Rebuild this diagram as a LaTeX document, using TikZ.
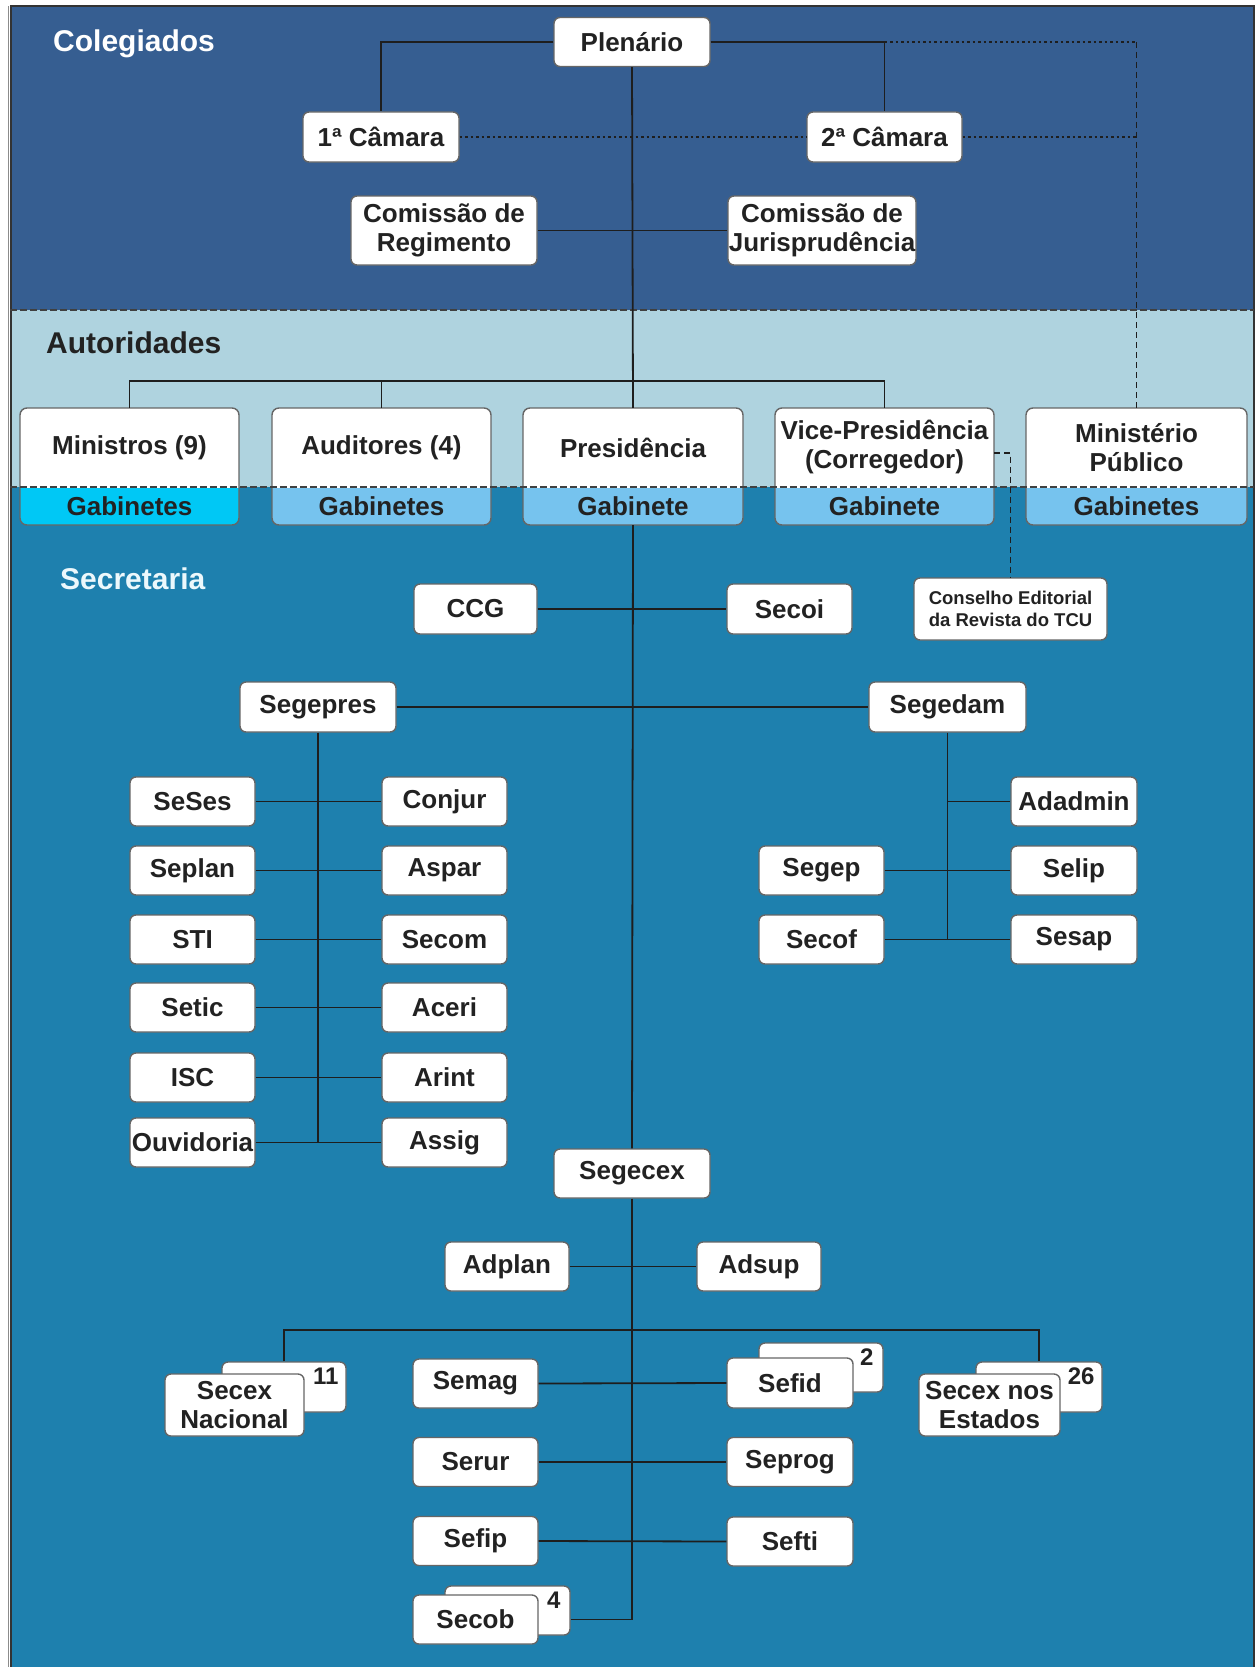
\documentclass[tikz,border=0pt]{standalone}
\usepackage{fontspec}
\setmainfont{Liberation Sans}
\usetikzlibrary{calc}
\definecolor{colA}{RGB}{54,94,145}
\definecolor{colB}{RGB}{175,211,223}
\definecolor{colC}{RGB}{30,128,174}
\definecolor{gabL}{RGB}{118,195,238}
\definecolor{gabC}{RGB}{0,200,245}
\definecolor{txt}{RGB}{34,34,34}
\definecolor{lnc}{RGB}{30,30,30}
\definecolor{secl}{RGB}{236,248,252}
\newcommand\fbig{\fontsize{26}{29}\selectfont}
\newcommand\fttl{\fontsize{30}{34}\selectfont}
\newcommand\fsml{\fontsize{18.5}{22}\selectfont}
\newcommand\fnum{\fontsize{24}{26}\selectfont}
\tikzset{
  boxdraw/.style={draw=black!60, line width=1.4pt},
  bx/.style 2 args={boxdraw, fill=white, rounded corners=6pt, inner sep=0pt,
     minimum width=#1, minimum height=#2, text=txt, font=\bfseries\fbig, align=center},
  authtxt/.style={inner sep=0pt, text=txt, font=\bfseries\fbig, align=center},
  ttl/.style={anchor=west, inner sep=0pt, font=\bfseries\fttl},
  num/.style={inner sep=0pt, text=txt, font=\bfseries\fnum, anchor=north east},
  ln/.style={draw=lnc, line width=1.8pt},
  dotl/.style={draw=lnc, line width=2pt, dash pattern=on 2.5pt off 3pt},
  dashl/.style={draw=lnc, line width=1.6pt, dash pattern=on 6pt off 4pt},
  bandsep/.style={draw=black!75, line width=1.8pt, dash pattern=on 7pt off 3pt}
}
\newcommand\authbox[6]{%
  \fill[#6, rounded corners=7pt] (#2,408) rectangle (#3,525);
  \begin{scope}
    \clip (#2-5,400) rectangle (#3+5,487);
    \fill[white, rounded corners=7pt] (#2,408) rectangle (#3,525);
  \end{scope}
  \draw[boxdraw, rounded corners=7pt] (#2,408) rectangle (#3,525);
  \node[authtxt, minimum width={#3-#2}, minimum height=79] (#1) at ({(#2+#3)/2},447.5) {#4};
  \node[authtxt, minimum width={#3-#2}, minimum height=38] (#1g) at ({(#2+#3)/2},506) {#5};
}
\begin{document}
\begin{tikzpicture}[x=1pt,y=-1pt]
\useasboundingbox (0,0) rectangle (1257,1667);
% bands
\fill[white] (0,0) rectangle (1257,1667);
\fill[colA] (10,6) rectangle (1254,310);
\fill[colB] (10,310) rectangle (1254,487);
\fill[colC] (10,487) rectangle (1254,1667);
\draw[black!45, line width=1pt] (8.5,1667) -- (8.5,6);
\draw[black!80, line width=2pt] (10.5,1667) -- (10.5,6.5) -- (1254,6.5) -- (1254,1667);

% band titles
\node[ttl, text=white] (tcol) at (53,44) {Colegiados};
\node[ttl, text=txt] (taut) at (46,343) {Autoridades};
\node[ttl, text=secl] (tsec) at (60,579) {Secretaria};

% Colegiados
\node[bx={156}{49}] (pl) at (632,42) {Plenário};
\node[bx={156}{50}] (c1) at (381,137) {1ª Câmara};
\node[bx={155}{50}] (c2) at (884.5,137) {2ª Câmara};
\node[bx={186}{69}] (creg) at (444,230.5) {Comissão de\\Regimento};
\node[bx={188}{69}] (cjur) at (822,230.5) {Comissão de\\Jurisprudência};

% Autoridades
\authbox{min}{20}{239}{Ministros (9)}{Gabinetes}{gabC}
\authbox{aud}{272}{491}{Auditores (4)}{Gabinetes}{gabL}
\authbox{pres}{523}{743}{Presidência}{Gabinete}{gabL}
\authbox{vp}{775}{994}{Vice-Presidência\\(Corregedor)}{Gabinete}{gabL}
\authbox{mp}{1026}{1247}{Ministério\\Público}{Gabinetes}{gabL}

% band separators
\draw[bandsep] (10,310) -- (1254,310);
\draw[bandsep] (10,487) -- (1254,487);

% Secretaria
\node[bx={123}{50}] (ccg) at (475.5,609) {CCG};
\node[bx={125}{50}] (secoi) at (789.5,609) {Secoi};
\node[bx={193}{62}, font=\bfseries\fsml] (cons) at (1010.5,609) {Conselho Editorial\\da Revista do TCU};
\node[bx={156}{50}] (segepres) at (318,707) {Segepres};
\node[bx={157}{50}] (segedam) at (947.5,707) {Segedam};

\node[bx={125}{49}] (seses) at (192.5,801.5) {SeSes};
\node[bx={125}{49}] (conjur) at (444.5,801.5) {Conjur};
\node[bx={125}{49}] (seplan) at (192.5,870.5) {Seplan};
\node[bx={125}{49}] (aspar) at (444.5,870.5) {Aspar};
\node[bx={125}{49}] (sti) at (192.5,939.5) {STI};
\node[bx={125}{49}] (secom) at (444.5,939.5) {Secom};
\node[bx={125}{49}] (setic) at (192.5,1007.5) {Setic};
\node[bx={125}{49}] (aceri) at (444.5,1007.5) {Aceri};
\node[bx={125}{49}] (isc) at (192.5,1077.5) {ISC};
\node[bx={125}{49}] (arint) at (444.5,1077.5) {Arint};
\node[bx={125}{49}] (ouv) at (192.5,1142.5) {Ouvidoria};
\node[bx={125}{49}] (assig) at (444.5,1142.5) {Assig};

\node[bx={126}{49}] (adadmin) at (1074,801.5) {Adadmin};
\node[bx={125}{49}] (segep) at (821.5,870.5) {Segep};
\node[bx={126}{49}] (selip) at (1074,870.5) {Selip};
\node[bx={125}{49}] (secof) at (821.5,939.5) {Secof};
\node[bx={126}{49}] (sesap) at (1074,939.5) {Sesap};

\node[bx={156}{49}] (segecex) at (632,1173.5) {Segecex};
\node[bx={124}{49}] (adplan) at (507,1266.5) {Adplan};
\node[bx={124}{49}] (adsup) at (759,1266.5) {Adsup};

\node[bx={124}{50}] (secnb) at (284,1387) {};
\node[num] (n11) at ([xshift=-8pt,yshift=-6pt]secnb.north east) {11};
\node[bx={139}{62}] (secn) at (234.5,1405) {Secex\\Nacional};

\node[bx={125}{49}] (semag) at (475.5,1383.5) {Semag};
\node[bx={125}{49}] (serur) at (475.5,1462) {Serur};
\node[bx={125}{49}] (sefip) at (475.5,1541) {Sefip};
\node[bx={125}{49}] (secobb) at (507.5,1610.5) {};
\node[num] (n4) at ([xshift=-10pt,yshift=-6pt]secobb.north east) {4};
\node[bx={125}{49}] (secob) at (475.5,1619.5) {Secob};

\node[bx={124}{49}] (sefidb) at (821,1367.5) {};
\node[num] (n2) at ([xshift=-10pt,yshift=-6pt]sefidb.north east) {2};
\node[bx={126}{50}] (sefid) at (790,1383) {Sefid};
\node[bx={126}{49}] (seprog) at (790,1462) {Seprog};
\node[bx={126}{49}] (sefti) at (790,1541.5) {Sefti};

\node[bx={126}{50}] (secestb) at (1039,1387) {};
\node[num] (n26) at ([xshift=-8pt,yshift=-6pt]secestb.north east) {26};
\node[bx={141}{62}] (secest) at (989.5,1405) {Secex nos\\Estados};

% connectors: Colegiados
\draw[ln] (pl.west) -| (c1.north);
\draw[ln] (pl.east) -| (c2.north);
\draw[ln] (pl.south) -- (pres.north);
\draw[ln] (creg.east) -- (cjur.west);
\draw[dotl] (c1.east) -- (c2.west);
\draw[dotl] (c2.east) -- (c2.east -| mp.north);
\draw[dotl] (c2.north |- pl.east) -- (mp.north |- pl.east);
\draw[dashl] (mp.north |- pl.east) -- (mp.north);

% Autoridades
\coordinate (abus) at (633,381);
\draw[ln] (min.north) |- (abus) -| (vp.north);
\draw[ln] (aud.north) -- (aud.north |- abus);
\draw[dashl] ([yshift=-5.5pt]vp.east) -| (cons.north);

% Secretaria
\draw[ln] (presg.south) -- (segecex.north);
\draw[ln] (ccg.east) -- (secoi.west);
\draw[ln] (segepres.east) -- (segedam.west);
\draw[ln] (segepres.south) -- (segepres.south |- ouv.east);
\draw[ln] (seses.east) -- (conjur.west);
\draw[ln] (seplan.east) -- (aspar.west);
\draw[ln] (sti.east) -- (secom.west);
\draw[ln] (setic.east) -- (aceri.west);
\draw[ln] (isc.east) -- (arint.west);
\draw[ln] (ouv.east) -- (assig.west);

\draw[ln] (segedam.south) -- (segedam.south |- secof.east);
\draw[ln] (segedam.south |- adadmin.west) -- (adadmin.west);
\draw[ln] (segep.east) -- (selip.west);
\draw[ln] (secof.east) -- (sesap.west);

\draw[ln] (segecex.south) -- (segecex.south |- secob.east) -- (secobb.east |- secob.east);
\draw[ln] (adplan.east) -- (adsup.west);
\coordinate (sbus) at (633,1330);
\draw[ln] (secnb.north) |- (sbus) -| (secestb.north);
\draw[ln] (semag.east) -- (sefid.west);
\draw[ln] (serur.east) -- (seprog.west);
\draw[ln] (sefip.east) -- (sefti.west);
\end{tikzpicture}
\end{document}
